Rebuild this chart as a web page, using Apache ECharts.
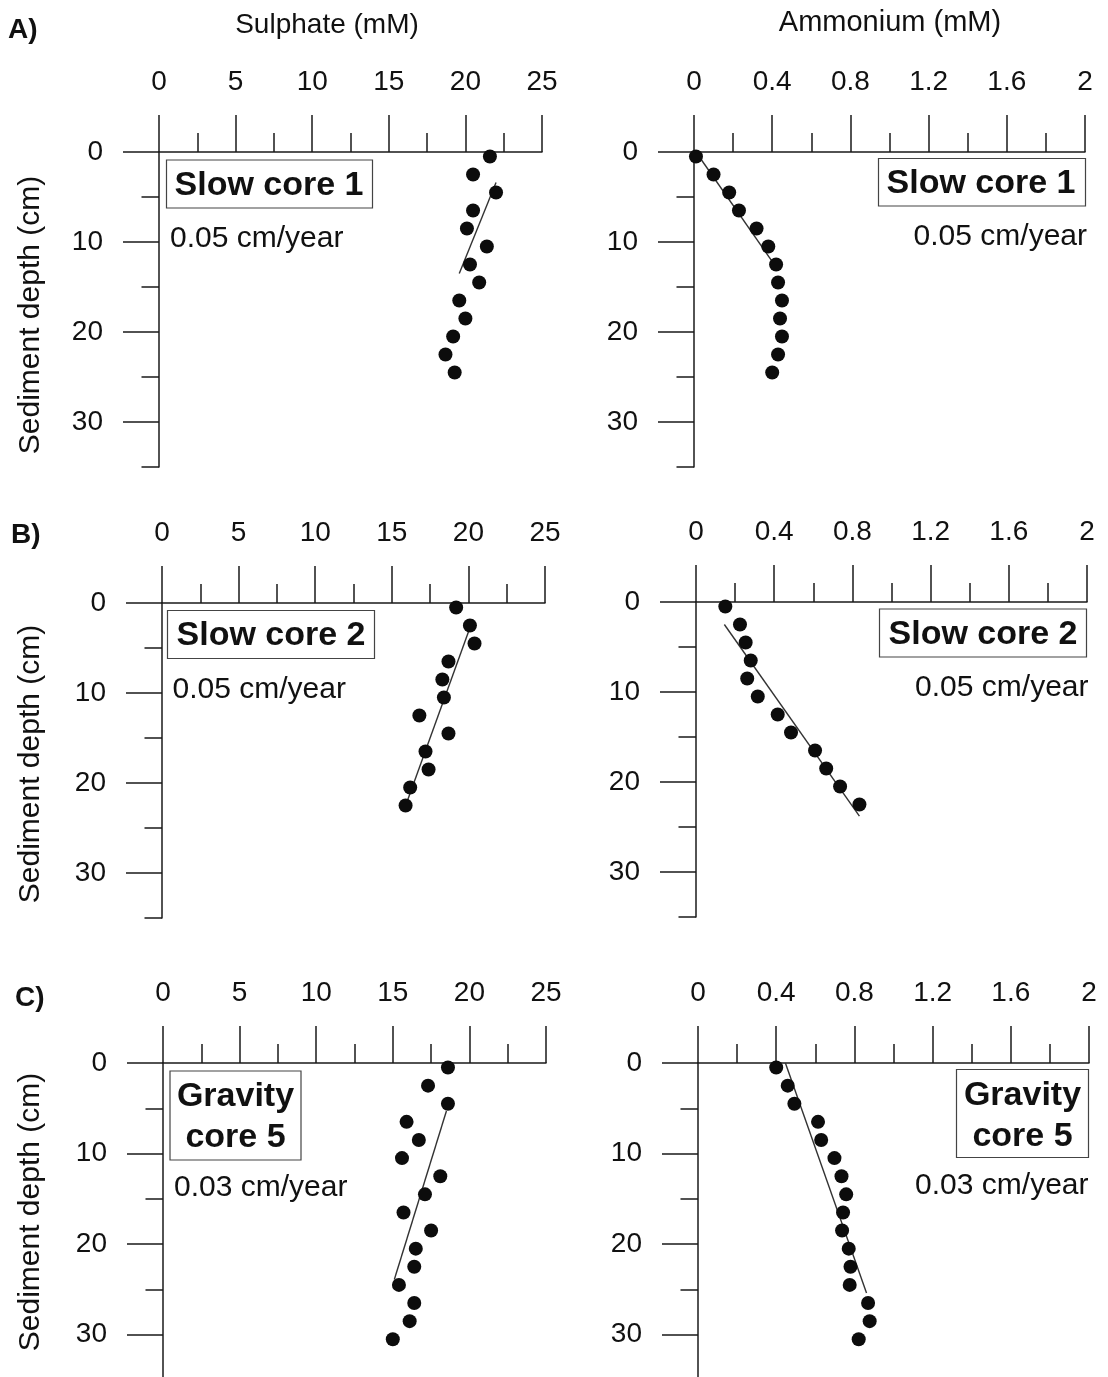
<!DOCTYPE html>
<html>
<head>
<meta charset="utf-8">
<script src="https://cdn.jsdelivr.net/npm/echarts@6/dist/echarts.min.js"></script>
<style>
html,body{margin:0;padding:0;background:#fff;overflow:hidden;}
#chart{width:1108px;height:1400px;}
</style>
</head>
<body>
<div id="chart"></div>
<script>
// ---- Data ----
const depthA = [0.5, 2.5, 4.5, 6.5, 8.5, 10.5, 12.5, 14.5, 16.5, 18.5, 20.5, 22.5, 24.5];
const depthB = [0.5, 2.5, 4.5, 6.5, 8.5, 10.5, 12.5, 14.5, 16.5, 18.5, 20.5, 22.5];
const depthC = [0.5, 2.5, 4.5, 6.5, 8.5, 10.5, 12.5, 14.5, 16.5, 18.5, 20.5, 22.5, 24.5, 26.5, 28.5, 30.5];

const sulphateA = [21.6, 20.5, 22.0, 20.5, 20.1, 21.4, 20.3, 20.9, 19.6, 20.0, 19.2, 18.7, 19.3];
const ammoniumA = [0.01, 0.10, 0.18, 0.23, 0.32, 0.38, 0.42, 0.43, 0.45, 0.44, 0.45, 0.43, 0.40];
const sulphateB = [19.2, 20.1, 20.4, 18.7, 18.3, 18.4, 16.8, 18.7, 17.2, 17.4, 16.2, 15.9];
const ammoniumB = [0.15, 0.225, 0.254, 0.28, 0.262, 0.316, 0.418, 0.486, 0.609, 0.666, 0.737, 0.836];
const sulphateC = [18.6, 17.3, 18.6, 15.9, 16.7, 15.6, 18.1, 17.1, 15.7, 17.5, 16.5, 16.4, 15.4, 16.4, 16.1, 15.0];
const ammoniumC = [0.40, 0.459, 0.493, 0.614, 0.63, 0.698, 0.734, 0.758, 0.742, 0.737, 0.771, 0.78, 0.776, 0.87, 0.878, 0.822];

// fitted lines: [concentration, depth] end points
const fitSulphateA = [[22.0, 3.4], [19.6, 13.5]];
const fitAmmoniumA = [[0.01, 0], [0.42, 12.8]];
const fitSulphateB = [[20.3, 1.8], [15.8, 23.0]];
const fitAmmoniumB = [[0.145, 2.5], [0.836, 23.8]];
const fitSulphateC = [[18.5, 5.3], [15.1, 23.9]];
const fitAmmoniumC = [[0.447, 0], [0.862, 25.4]];

const coreNames = ['Slow core 1', 'Slow core 2', 'Gravity\ncore 5'];
const rates = ['0.05 cm/year', '0.05 cm/year', '0.03 cm/year'];
const panelLetters = ['A)', 'B)', 'C)'];
const sulphateTicks = {min: 0, max: 25, interval: 5};
const ammoniumTicks = {min: 0, max: 2, interval: 0.4};
const depthMajorTicks = [0, 10, 20, 30];
const depthMax = 35;

// ---- Layout ----
const FONT = '"Liberation Sans", Arial, Helvetica, sans-serif';
const INK = '#111';
const grids = [
  {left: 159, top: 152, width: 383, height: 315},
  {left: 694, top: 152, width: 391, height: 315},
  {left: 162, top: 603, width: 383, height: 315},
  {left: 696, top: 602, width: 391, height: 315},
  {left: 163, top: 1063, width: 383, height: 317},
  {left: 698, top: 1063, width: 391, height: 317}
];
const panels = [
  {vals: sulphateA, depth: depthA, fit: fitSulphateA, ticks: sulphateTicks},
  {vals: ammoniumA, depth: depthA, fit: fitAmmoniumA, ticks: ammoniumTicks},
  {vals: sulphateB, depth: depthB, fit: fitSulphateB, ticks: sulphateTicks},
  {vals: ammoniumB, depth: depthB, fit: fitAmmoniumB, ticks: ammoniumTicks},
  {vals: sulphateC, depth: depthC, fit: fitSulphateC, ticks: sulphateTicks},
  {vals: ammoniumC, depth: depthC, fit: fitAmmoniumC, ticks: ammoniumTicks}
];

const lineSt = {color: '#1a1a1a', width: 1.5};
const xAxes = [], yAxes = [], series = [];
panels.forEach((p, i) => {
  xAxes.push({
    gridIndex: i, type: 'value', position: 'top',
    min: p.ticks.min, max: p.ticks.max, interval: p.ticks.interval,
    axisLine: {show: true, onZero: false, lineStyle: lineSt},
    axisTick: {show: true, length: 37, lineStyle: lineSt},
    minorTick: {show: true, splitNumber: 2, length: 19, lineStyle: lineSt},
    splitLine: {show: false}, minorSplitLine: {show: false},
    axisLabel: {margin: 56, fontSize: 28, color: INK, fontFamily: FONT, showMinLabel: true, showMaxLabel: true}
  });
  yAxes.push({
    gridIndex: i, type: 'value', inverse: true, position: 'left',
    min: 0, max: depthMax, interval: 5,
    axisLine: {show: true, onZero: false, lineStyle: lineSt},
    axisTick: {show: true, length: 17.5, lineStyle: lineSt},
    splitLine: {show: false},
    axisLabel: {margin: 56, fontSize: 28, color: INK, fontFamily: FONT,
      formatter: v => (depthMajorTicks.indexOf(v) >= 0 ? String(v) : '')}
  });
  yAxes.push({
    gridIndex: i, type: 'value', inverse: true, position: 'left', offset: 0,
    min: 0, max: depthMax, interval: 5,
    axisLine: {show: false, onZero: false},
    axisTick: {show: true, length: 36, lineStyle: lineSt, customValues: depthMajorTicks},
    axisLabel: {show: false},
    splitLine: {show: false}
  });
  series.push({
    type: 'line', xAxisIndex: i, yAxisIndex: 2 * i,
    data: p.fit, symbol: 'none', showSymbol: false, silent: true, z: 2,
    lineStyle: {color: '#333', width: 1.4}
  });
  series.push({
    type: 'scatter', xAxisIndex: i, yAxisIndex: 2 * i,
    data: p.vals.map((v, k) => [v, p.depth[k]]),
    symbol: 'circle', symbolSize: 14, z: 3,
    itemStyle: {color: '#0c0c0c', opacity: 1}
  });
});

// ---- Text annotations ----
const graphic = [];
function txt(x, y, text, opts) {
  graphic.push(Object.assign({
    type: 'text', x: x, y: y, silent: true,
    style: Object.assign({text: text, fill: INK, fontFamily: FONT, fontSize: 28,
      align: 'center', verticalAlign: 'middle'}, opts || {})
  }));
}
function box(x, y, w, h) {
  graphic.push({type: 'rect', silent: true, shape: {x: x, y: y, width: w, height: h},
    style: {fill: '#fff', stroke: '#444', lineWidth: 1.2}});
}
// titles and panel letters
txt(327, 25, 'Sulphate (mM)');
txt(890, 23, 'Ammonium (mM)', {fontSize: 29});
txt(8, 30, panelLetters[0], {align: 'left', fontWeight: 'bold'});
txt(11, 535, panelLetters[1], {align: 'left', fontWeight: 'bold'});
txt(15, 998, panelLetters[2], {align: 'left', fontWeight: 'bold'});
// y axis names
[315, 764, 1212].forEach(cy => {
  graphic.push({type: 'text', x: 31, y: cy, rotation: Math.PI / 2, silent: true,
    style: {text: 'Sediment depth (cm)', fill: INK, fontFamily: FONT, fontSize: 30,
      align: 'center', verticalAlign: 'middle'}});
});
// core labels
const boldName = {fontWeight: 'bold', fontSize: 34};
box(166.5, 160, 206, 48);   txt(269, 185.5, coreNames[0], boldName);
txt(170, 239, rates[0], {align: 'left', fontSize: 30});
box(878.5, 158.5, 207, 47.5); txt(981, 184, coreNames[0], boldName);
txt(1087, 237, rates[0], {align: 'right', fontSize: 30});
box(167.5, 610.5, 207, 48); txt(271, 636, coreNames[1], boldName);
txt(172.5, 689.5, rates[1], {align: 'left', fontSize: 30});
box(879.5, 609, 207, 48);   txt(983, 634.5, coreNames[1], boldName);
txt(1088.5, 688, rates[1], {align: 'right', fontSize: 30});
box(170, 1071, 131, 89);    txt(235.5, 1117, coreNames[2], Object.assign({lineHeight: 41}, boldName));
txt(174, 1187.5, rates[2], {align: 'left', fontSize: 30});
box(956.5, 1069.5, 132, 88); txt(1022.5, 1116, coreNames[2], Object.assign({lineHeight: 41}, boldName));
txt(1088.5, 1186, rates[2], {align: 'right', fontSize: 30});

const chart = echarts.init(document.getElementById('chart'), null, {renderer: 'canvas'});
chart.setOption({
  animation: false,
  backgroundColor: '#fff',
  grid: grids.map(g => Object.assign({containLabel: false, outerBoundsMode: 'none'}, g)),
  xAxis: xAxes,
  yAxis: yAxes,
  series: series,
  graphic: graphic
});
</script>
</body>
</html>
